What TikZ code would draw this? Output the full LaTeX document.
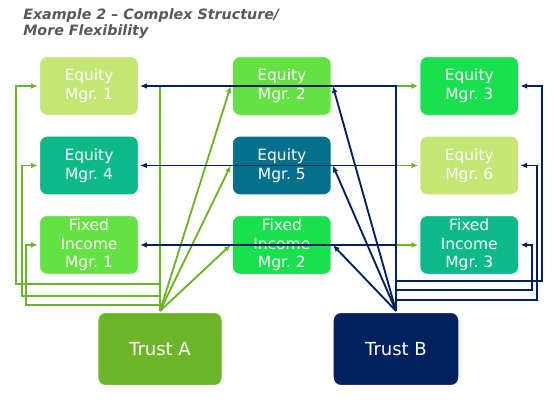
\documentclass[tikz,border=0pt]{standalone}
\usepackage{fontspec}
\setmainfont{DejaVu Sans}
\usetikzlibrary{arrows.meta,positioning,shadows}
\definecolor{mglime}{RGB}{196,230,116}
\definecolor{mgteal}{RGB}{14,185,137}
\definecolor{mgleaf}{RGB}{100,226,68}
\definecolor{mgpetrol}{RGB}{5,112,140}
\definecolor{mgmint}{RGB}{24,224,78}
\definecolor{trgreen}{RGB}{108,180,40}
\definecolor{trnavy}{RGB}{0,32,94}
\definecolor{ttlgray}{RGB}{89,89,89}
\tikzset{
  boxbase/.style={
    draw=white, line width=1.6pt, rounded corners=6pt,
    align=center, text=white, inner sep=0.5pt,
    drop shadow={shadow xshift=0.5pt, shadow yshift=-0.8pt, opacity=0.22}
  },
  mgr/.style={boxbase, minimum width=75pt, minimum height=45pt,
    font=\fontsize{11.6}{14}\selectfont},
  trust/.style={boxbase, minimum width=94pt, minimum height=55.5pt,
    font=\fontsize{13.5}{15}\selectfont},
  ttl/.style={font=\fontsize{10.7}{12}\selectfont\bfseries\itshape,
    text=ttlgray, align=left, inner sep=0pt},
  gar/.style={-{Latex[length=1.8mm,width=1.5mm]}, draw=trgreen, line width=1.4pt},
  nar/.style={-{Latex[length=1.8mm,width=1.5mm]}, draw=trnavy, line width=1.4pt}
}

\begin{document}
\begin{tikzpicture}[x=0.75pt, y=-0.75pt, node distance=13pt and 68pt]
  \useasboundingbox (0,0) rectangle (554,403);
  \node[ttl, anchor=north west] (title) at (23,8) {Example 2 – Complex Structure/\\More Flexibility};
  % managers
  \node[mgr, fill=mglime] (em1) at (89,86) {Equity\\Mgr.\ 1};
  \node[mgr, fill=mgteal, below=of em1] (em4) {Equity\\Mgr.\ 4};
  \node[mgr, fill=mgleaf, below=of em4] (fi1) {Fixed\\Income\\Mgr.\ 1};
  \node[mgr, fill=mgleaf, right=of em1] (em2) {Equity\\Mgr.\ 2};
  \node[mgr, fill=mgpetrol, below=of em2] (em5) {Equity\\Mgr.\ 5};
  \node[mgr, fill=mgmint, below=of em5] (fi2) {Fixed\\Income\\Mgr.\ 2};
  \node[mgr, fill=mgmint, right=64pt of em2] (em3) {Equity\\Mgr.\ 3};
  \node[mgr, fill=mglime, below=of em3] (em6) {Equity\\Mgr.\ 6};
  \node[mgr, fill=mgteal, below=of em6] (fi3) {Fixed\\Income\\Mgr.\ 3};
  % trusts
  \node[trust, fill=trgreen] (trA) at (160,349) {Trust A};
  \node[trust, fill=trnavy, minimum width=95pt] (trB) at (396,349) {Trust B};
  % trust A
  \draw[gar] (trA.north) -- ++(0,-27) -- ++(-144,0) |- (em1.west);
  \draw[gar] (trA.north) -- ++(0,-15) -- ++(-138,0) |- (em4.west);
  \draw[gar] (trA.north) -- ++(0,-6) -- ++(-134,0) |- (fi1.west);
  \draw[gar] (trA.north) -- (em2.west);
  \draw[gar] (trA.north) -- (em5.west);
  \draw[gar] (trA.north) -- (fi2.west);
  \draw[gar] (trA.north) |- (em3.west);
  \draw[gar] (trA.north) |- (em6.west);
  \draw[gar] (trA.north) |- (fi3.west);
  % trust B
  \draw[nar] (trB.north) |- (em1.east);
  \draw[nar] (trB.north) |- (em4.east);
  \draw[nar] (trB.north) |- (fi1.east);
  \draw[nar] (trB.north) -- (em2.east);
  \draw[nar] (trB.north) -- (em5.east);
  \draw[nar] (trB.north) -- (fi2.east);
  \draw[nar] (trB.north) -- ++(0,-30) -- ++(146,0) |- (em3.east);
  \draw[nar] (trB.north) -- ++(0,-11) -- ++(141,0) |- (em6.east);
  \draw[nar] (trB.north) -- ++(0,-21) -- ++(136,0) |- (fi3.east);
\end{tikzpicture}
\end{document}
